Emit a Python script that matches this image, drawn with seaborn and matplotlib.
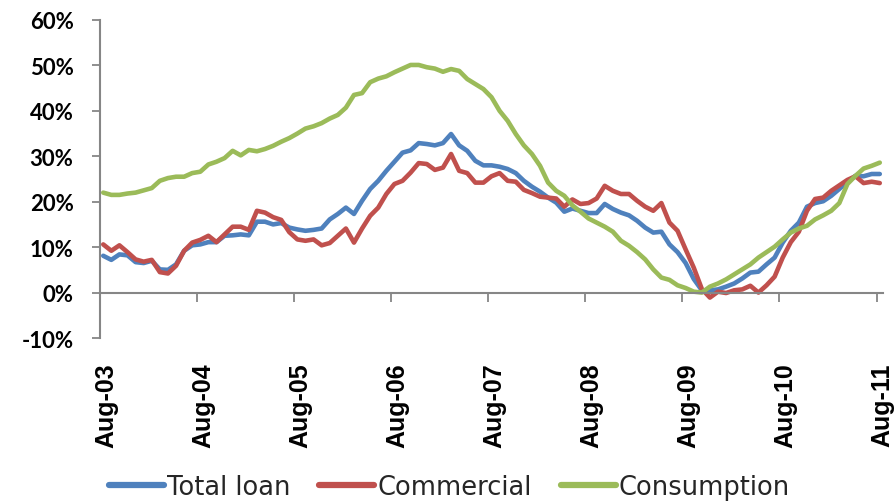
import numpy as np
import pandas as pd
import matplotlib
matplotlib.use("Agg")
import matplotlib.pyplot as plt
import matplotlib.transforms as mtransforms
import seaborn as sns

# ---- data (monthly, Aug-03 .. Aug-11, y/y growth in %) ----
series_names = ["Total loan", "Commercial", "Consumption"]
colors = ["#4F81BD", "#C0504D", "#9BBB59"]
tick_labels = ["Aug-03", "Aug-04", "Aug-05", "Aug-06", "Aug-07",
               "Aug-08", "Aug-09", "Aug-10", "Aug-11"]

total_loan = [8.1, 7.2, 8.4, 8.2, 6.7, 6.5, 7.0, 5.1, 5.0, 6.2,
              9.2, 10.4, 10.6, 11.1, 11.1, 12.5, 12.6, 12.8, 12.6, 15.6,
              15.6, 15.0, 15.3, 14.3, 13.9, 13.6, 13.8, 14.1, 16.1, 17.3,
              18.7, 17.3, 20.2, 22.8, 24.6, 26.8, 28.8, 30.8, 31.3, 32.9,
              32.7, 32.4, 32.9, 34.9, 32.4, 31.2, 29.0, 28.0, 28.0, 27.7,
              27.2, 26.3, 24.6, 23.3, 22.2, 20.9, 19.8, 17.8, 18.5, 18.0,
              17.5, 17.5, 19.5, 18.4, 17.6, 17.0, 15.8, 14.3, 13.2, 13.4,
              10.6, 8.9, 6.5, 3.0, 0.5, 0.5, 0.7, 1.3, 2.0, 3.1,
              4.4, 4.6, 6.2, 7.7, 11.0, 13.6, 15.4, 18.9, 19.7, 20.1,
              21.3, 22.8, 24.4, 25.7, 25.6, 26.1, 26.1]

commercial = [10.6, 9.2, 10.4, 8.9, 7.3, 6.8, 7.2, 4.5, 4.2, 5.9,
              9.2, 11.0, 11.6, 12.5, 11.1, 12.8, 14.5, 14.5, 13.8, 18.0,
              17.6, 16.6, 16.0, 13.3, 11.7, 11.4, 11.7, 10.4, 10.9, 12.5,
              14.1, 11.0, 14.1, 16.9, 18.7, 21.7, 23.9, 24.6, 26.4, 28.5,
              28.3, 27.0, 27.5, 30.5, 26.8, 26.3, 24.2, 24.2, 25.6, 26.3,
              24.6, 24.4, 22.6, 21.9, 21.1, 20.9, 20.7, 18.9, 20.5, 19.5,
              19.7, 20.7, 23.5, 22.4, 21.7, 21.7, 20.2, 18.9, 18.0, 19.7,
              15.4, 13.6, 9.5, 5.5, 0.8, -1.1, 0.2, -0.1, 0.5, 0.7,
              1.5, 0.0, 1.6, 3.5, 7.7, 11.1, 13.4, 18.0, 20.6, 20.9,
              22.4, 23.6, 24.8, 25.6, 24.1, 24.4, 24.1]

consumption = [22.0, 21.5, 21.5, 21.8, 22.0, 22.5, 23.0, 24.6, 25.2, 25.5,
               25.5, 26.3, 26.6, 28.2, 28.8, 29.6, 31.2, 30.2, 31.4, 31.1,
               31.6, 32.3, 33.2, 34.0, 35.0, 36.1, 36.6, 37.3, 38.3, 39.1,
               40.7, 43.5, 43.9, 46.3, 47.1, 47.6, 48.5, 49.3, 50.1, 50.1,
               49.6, 49.3, 48.6, 49.2, 48.8, 47.0, 45.9, 44.8, 43.0, 40.0,
               37.8, 34.9, 32.4, 30.5, 27.9, 24.2, 22.4, 21.3, 19.2, 17.8,
               16.3, 15.4, 14.5, 13.4, 11.4, 10.3, 8.9, 7.3, 5.1, 3.3,
               2.8, 1.6, 1.0, 0.2, 0.0, 1.3, 2.0, 2.9, 4.0, 5.1,
               6.2, 7.7, 8.9, 10.1, 11.7, 13.2, 14.1, 14.7, 16.1, 17.0,
               18.0, 19.7, 23.9, 25.7, 27.3, 27.9, 28.6]

months = np.arange(len(total_loan))
df = pd.concat([
    pd.DataFrame({"month": months, "value": vals, "series": name})
    for name, vals in zip(series_names, [total_loan, commercial, consumption])
], ignore_index=True)

# ---- style ----
sns.set_theme(style="white")
plt.rcParams["font.family"] = ["DejaVu Sans"]

fig = plt.figure(figsize=(8.96, 5.02), dpi=100)
ax = fig.add_axes([0.1116, 0.3247, 0.8739, 0.6335])

sns.lineplot(data=df, x="month", y="value", hue="series",
             hue_order=series_names, palette=colors, linewidth=3.3,
             ax=ax, legend=True)

axis_grey = "#868686"
ax.set_xlim(-0.4, 96.4)
ax.set_ylim(-10, 60)
ax.set_xlabel("")
ax.set_ylabel("")

# y axis
ax.set_yticks(np.arange(-10, 61, 10))
ax.set_yticklabels([f"{v}%" for v in range(-10, 61, 10)],
                   fontfamily="Lato", fontweight="bold", fontsize=16, color="#000000")
ax.tick_params(axis="y", direction="out", length=6, width=1.3, color=axis_grey,
               pad=13, left=True)

# x axis crosses at 0
ax.spines["bottom"].set_position(("data", 0))
for side in ["top", "right"]:
    ax.spines[side].set_visible(False)
for side in ["left", "bottom"]:
    ax.spines[side].set_color(axis_grey)
    ax.spines[side].set_linewidth(1.5)

xt = np.arange(0, 97, 12) - 0.4
ax.set_xticks(xt)
ax.set_xticklabels(tick_labels, rotation=90, fontfamily="Liberation Sans",
                   fontweight="bold", fontsize=18, color="#000000")
ax.tick_params(axis="x", direction="out", length=6.5, width=1.3, color=axis_grey,
               pad=44, bottom=True)
offset = mtransforms.ScaledTranslation(6 / 100, 0, fig.dpi_scale_trans)
for lab in ax.get_xticklabels():
    lab.set_transform(lab.get_transform() + offset)

# legend
handles, labels = ax.get_legend_handles_labels()
ax.get_legend().remove()
for h in handles:
    h.set_linewidth(4.5)
fig.legend(handles, labels, loc="center", bbox_to_anchor=(0.5017, 0.028),
           ncol=3, frameon=False, handlelength=2.14,
           handletextpad=0.12, columnspacing=1.13, borderaxespad=0,
           prop={"family": "DejaVu Sans", "size": 18.5})

fig.savefig("out.png", dpi=100, facecolor="white")
